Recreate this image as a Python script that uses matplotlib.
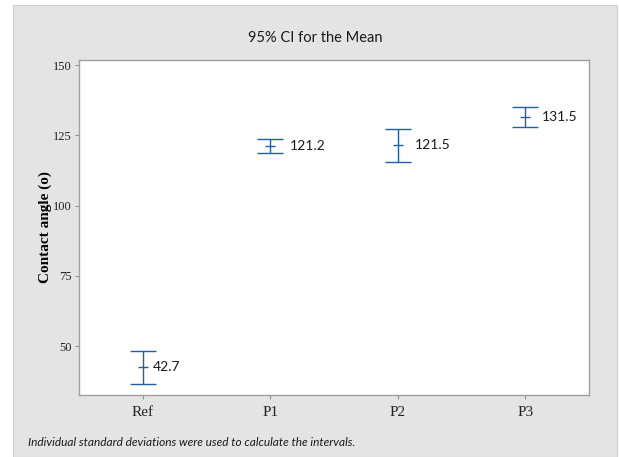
import matplotlib

matplotlib.use("Agg")
import matplotlib.pyplot as plt
from matplotlib.patches import Rectangle

categories = ["Ref", "P1", "P2", "P3"]
means = [42.7, 121.2, 121.5, 131.5]
lower = [36.6, 118.8, 115.6, 127.8]
upper = [48.4, 123.6, 127.4, 135.2]
y_ticks = [50, 75, 100, 125, 150]

blue = "#1f5fa8"
gray_bg = "#e4e4e4"

fig = plt.figure(figsize=(6.19, 4.57), dpi=100, facecolor="white")
W, H = 619, 457

# gray panel behind everything
fig.patches.append(
    Rectangle((13 / W, 0), (617 - 13) / W, 1 - 5 / H, transform=fig.transFigure,
              facecolor=gray_bg, edgecolor="#d0d0d0", lw=0.8, zorder=-10)
)

ax = fig.add_axes([79 / W, 1 - 395 / H, (589 - 79) / W, (395 - 60) / H])
ax.set_zorder(1)
ax.set_facecolor("white")

x = list(range(len(categories)))
err_lo = [m - lo for m, lo in zip(means, lower)]
err_hi = [hi - m for m, hi in zip(means, upper)]
ax.errorbar(x, means, yerr=[err_lo, err_hi], fmt="none", ecolor=blue,
            elinewidth=1.0, capsize=9.5, capthick=1.0)
ax.plot(x, means, linestyle="none", marker="_", ms=6.5, mew=1.0, color=blue)

# label offsets (points) to the right of each interval, as in the original
label_dx = [7.5, 14, 12, 12]
for xi, m, dx in zip(x, means, label_dx):
    ax.annotate(f"{m:.1f}", (xi, m), xytext=(dx, 0), textcoords="offset points",
                va="center", ha="left", fontsize=10, family="Lato", color="#1a1a1a")

ax.set_xlim(-0.5, 3.5)
ax.set_ylim(32.6, 151.8)
ax.set_xticks(x)
ax.set_xticklabels(categories, family="Liberation Serif", fontsize=11)
ax.set_yticks(y_ticks)
ax.set_yticklabels([str(v) for v in y_ticks], family="Liberation Serif", fontsize=9)
ax.tick_params(axis="both", direction="out", length=3, width=0.8, color="#909090",
               labelcolor="#222222", pad=2)
ax.tick_params(axis="x", pad=5)
for spine in ax.spines.values():
    spine.set_color("#a0a0a0")
    spine.set_linewidth(1.0)

ax.set_ylabel("Contact angle (o)", family="Liberation Serif", fontweight="bold",
              fontsize=11, labelpad=1)

fig.text(315 / W, 1 - 38 / H, "95% CI for the Mean", ha="center", va="center",
         family="Lato", fontsize=10.5, color="#1a1a1a")
fig.text(28 / W, 1 - 443 / H,
         "Individual standard deviations were used to calculate the intervals.",
         ha="left", va="center", family="Lato", style="italic", fontsize=8.6,
         color="#1a1a1a")

fig.savefig("out.png", dpi=100, facecolor=fig.get_facecolor())
